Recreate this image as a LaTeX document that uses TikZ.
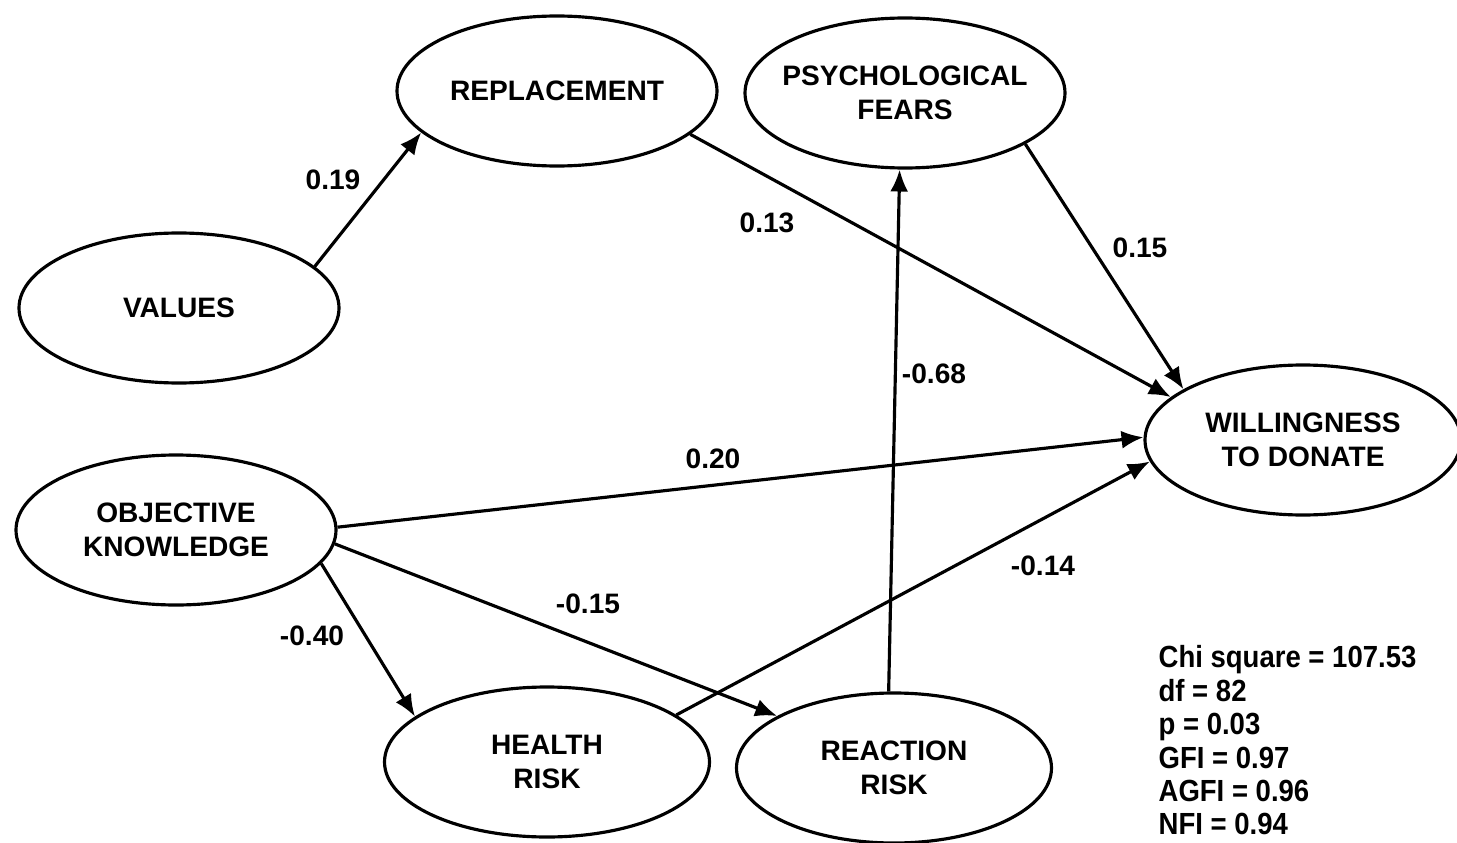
\documentclass[tikz,border=0pt]{standalone}
\usepackage{fontspec}
\setmainfont{Liberation Sans}
\usetikzlibrary{%
    shapes.geometric,%
    arrows.meta%
}

\begin{document}
\begin{tikzpicture}[
    latent/.style={ellipse,draw,line width=.9pt,inner sep=0pt,
        minimum width=3.2cm,minimum height=1.5cm,align=center,
        font={\fontsize{8}{9.8}\selectfont\bfseries}},
    effect/.style={-{Latex[length=2.2mm,width=1.8mm]},line width=.9pt},
    coef/.style={font={\fontsize{8}{9.5}\selectfont\bfseries}},
    ]
    \useasboundingbox (0,0) rectangle (14.57,8.42);
    % Latent variables
    \node[latent] (repl)   at (5.57,7.51) {REPLACEMENT};
    \node[latent,inner xsep=-2.5mm] (psych) at (9.05,7.49) {PSYCHOLOGICAL\\FEARS};
    \node[latent] (values) at (1.79,5.34) {VALUES};
    \node[latent,minimum width=3.16cm] (will) at (13.03,4.02) {WILLINGNESS\\TO DONATE};
    \node[latent] (obj)    at (1.76,3.12) {OBJECTIVE\\KNOWLEDGE};
    \node[latent,minimum width=3.25cm] (health) at (5.47,0.80) {HEALTH\\RISK};
    \node[latent,minimum width=3.15cm] (react)  at (8.94,0.74) {REACTION\\RISK};
    % Paths
    \draw[effect] (values.17)  -- (repl.197);
    \draw[effect] (repl.342)   -- (will.162);
    \draw[effect] (psych.337)  -- (will.157);
    \draw[effect] (react.94)   -- (psych.266);
    \draw[effect] (obj.1)      -- (will.179);
    \draw[effect] (health.20)  -- (will.188);
    \draw[effect] (obj.355)    -- (react.156);
    \draw[effect] (obj.347)    -- (health.161);
    % Path coefficients
    \node[coef] (c019) at (3.33,6.62) {0.19};
    \node[coef] (c013) at (7.67,6.19) {0.13};
    \node[coef] (c015) at (11.40,5.94) {0.15};
    \node[coef] (c068) at (9.34,4.68) {-0.68};
    \node[coef] (c020) at (7.13,3.83) {0.20};
    \node[coef] (c014) at (10.43,2.76) {-0.14};
    \node[coef] (c015b) at (5.88,2.38) {-0.15};
    \node[coef] (c040) at (3.12,2.06) {-0.40};
    % Fit indices
    \node[anchor=north west,inner sep=0pt,align=left,xscale=.9,
          font={\fontsize{8.7}{9.5}\selectfont\bfseries}] (fit) at (11.58,1.97)
          {Chi square = 107.53\\df = 82\\p = 0.03\\GFI = 0.97\\AGFI = 0.96\\NFI = 0.94};
\end{tikzpicture}
\end{document}
